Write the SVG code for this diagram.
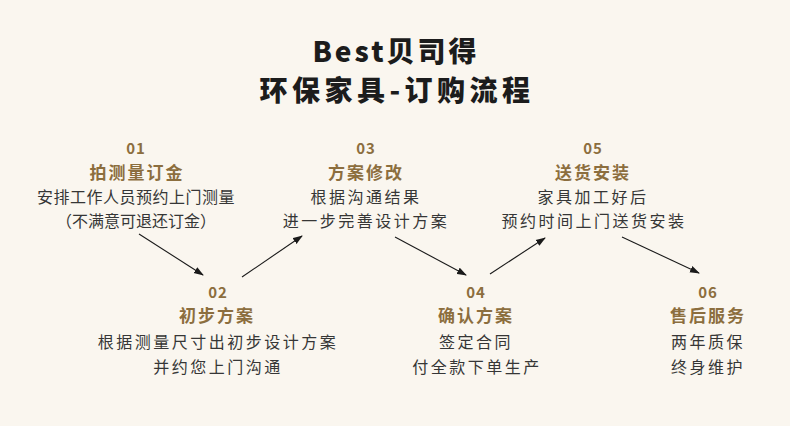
<svg xmlns="http://www.w3.org/2000/svg" width="790" height="426" viewBox="0 0 790 426">
<style>
text{font-family:"Noto Sans CJK SC","Noto Sans",sans-serif;text-anchor:middle}
.t{font-size:28px;font-weight:900;fill:#1c1c1c;letter-spacing:3px}
.n{font-size:15px;font-weight:700;fill:#8c6e3e;letter-spacing:1px}
.h{font-size:17px;font-weight:700;fill:#8c6e3e;letter-spacing:2px}
.b{font-size:16px;fill:#363636;letter-spacing:2.5px}
.c{stroke:#1a1a1a;stroke-width:1.1;fill:none;marker-end:url(#ah)}
</style>
<defs>
<marker id="ah" markerWidth="10" markerHeight="8" refX="9" refY="4" orient="auto" markerUnits="userSpaceOnUse">
<path d="M0,0.5 L10,4 L0,7.5 Z" fill="#1a1a1a"/>
</marker>
</defs>
<rect width="790" height="426" fill="#faf6ef"/>
<g id="title">
<text class="t" x="396" y="62">Best贝司得</text>
<text class="t" x="397" y="101" style="letter-spacing:4.5px">环保家具-订购流程</text>
</g>
<g id="n01">
<text class="n" x="136" y="154">01</text>
<text class="h" x="137" y="179">拍测量订金</text>
<text class="b" x="136" y="203" style="letter-spacing:0.5px">安排工作人员预约上门测量</text>
<text class="b" x="136" y="227" style="letter-spacing:0px">（不满意可退还订金）</text>
</g>
<g id="n02">
<text class="n" x="218" y="298">02</text>
<text class="h" x="217" y="322">初步方案</text>
<text class="b" x="218" y="348">根据测量尺寸出初步设计方案</text>
<text class="b" x="218" y="373">并约您上门沟通</text>
</g>
<g id="n03">
<text class="n" x="366" y="154">03</text>
<text class="h" x="366" y="179">方案修改</text>
<text class="b" x="366" y="203">根据沟通结果</text>
<text class="b" x="366" y="227">进一步完善设计方案</text>
</g>
<g id="n04">
<text class="n" x="476" y="298">04</text>
<text class="h" x="476" y="322">确认方案</text>
<text class="b" x="476" y="348">签定合同</text>
<text class="b" x="477" y="373">付全款下单生产</text>
</g>
<g id="n05">
<text class="n" x="593" y="154">05</text>
<text class="h" x="593" y="179">送货安装</text>
<text class="b" x="593" y="203">家具加工好后</text>
<text class="b" x="594" y="227">预约时间上门送货安装</text>
</g>
<g id="n06">
<text class="n" x="708" y="298">06</text>
<text class="h" x="708" y="322">售后服务</text>
<text class="b" x="708" y="348">两年质保</text>
<text class="b" x="708" y="373">终身维护</text>
</g>
<g id="connectors">
<line class="c" x1="139" y1="234" x2="203" y2="275"/>
<line class="c" x1="242" y1="277" x2="302" y2="236"/>
<line class="c" x1="395" y1="237" x2="466" y2="275"/>
<line class="c" x1="490" y1="274" x2="545" y2="238"/>
<line class="c" x1="622" y1="237" x2="699" y2="273"/>
</g>
</svg>
